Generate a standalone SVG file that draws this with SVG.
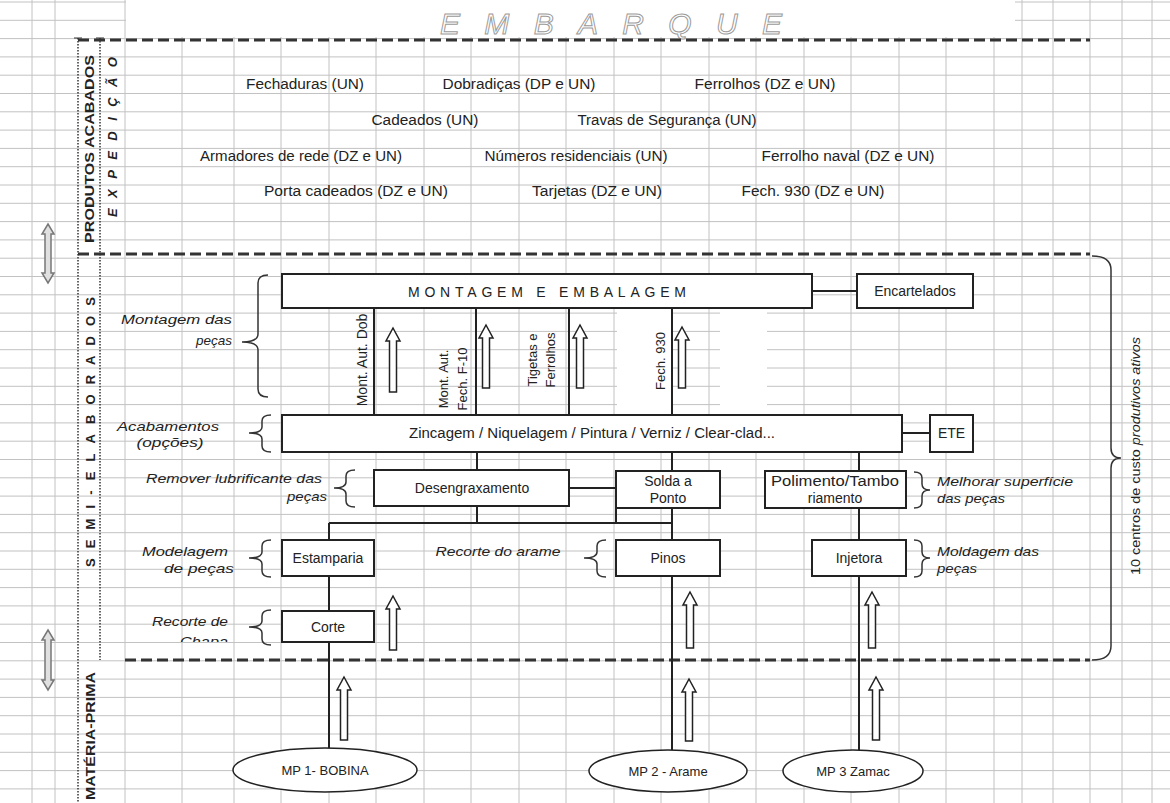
<svg xmlns="http://www.w3.org/2000/svg" width="1170" height="803" viewBox="0 0 1170 803">
<style>
.grid{stroke:#c2c2c2;stroke-width:1;fill:none}
.box{fill:#fff;stroke:#222;stroke-width:2}
.t{font-family:"Liberation Sans",Arial,sans-serif;font-size:14px;fill:#222}
.c{text-anchor:middle}
.e{text-anchor:end}
.it{font-style:italic;font-size:13px}
.b{font-weight:bold}
.conn{stroke:#222;stroke-width:2;fill:none}
.dash{stroke:#333;stroke-width:3;stroke-dasharray:11 5;fill:none}
.dot{stroke:#333;stroke-width:1.5;stroke-dasharray:1.5 1.5;fill:none}
.arrow{fill:#fff;stroke:#222;stroke-width:1.5}
.darrow{fill:#e0e0e0;stroke:#777;stroke-width:1.5}
.brace{fill:none;stroke:#333;stroke-width:1.5}
</style>
<defs>
<clipPath id="clipChapa"><rect x="100" y="600" width="200" height="42"/></clipPath>
</defs>
<rect width="1170" height="803" fill="#fff"/>
<g id="grid">
<path class="grid" d="M0,2H1170M0,20.3H1170M0,38.6H1170M0,56.9H1170M0,75.2H1170M0,93.5H1170M0,111.8H1170M0,130.1H1170M0,148.4H1170M0,166.7H1170M0,185H1170M0,203.3H1170M0,221.6H1170M0,239.9H1170M0,258.2H1170M0,276.5H1170M0,294.8H1170M0,313.1H1170M0,331.4H1170M0,349.7H1170M0,368H1170M0,386.3H1170M0,404.6H1170M0,422.9H1170M0,441.2H1170M0,459.5H1170M0,477.8H1170M0,496.1H1170M0,514.4H1170M0,532.7H1170M0,551H1170M0,569.3H1170M0,587.6H1170M0,605.9H1170M0,624.2H1170M0,642.5H1170M0,660.8H1170M0,679.1H1170M0,697.4H1170M0,715.7H1170M0,734H1170M0,752.3H1170M0,770.6H1170M0,788.9H1170"/>
<path class="grid" d="M32,0V803M55,0V803M125,0V803M182,0V803M234,0V803M281,0V803M329,0V803M376,0V803M424,0V803M471,0V803M519,0V803M566,0V803M614,0V803M661,0V803M709,0V803M756,0V803M804,0V803M851,0V803M899,0V803M946,0V803M994,0V803M1022,0V803M1053,0V803M1090,0V803M1122,0V803M1152,0V803"/>
<rect x="126" y="0" width="889" height="37" fill="#fff"/>
<rect x="617" y="309" width="54" height="105" fill="#fff"/>
<rect x="720" y="309" width="47" height="105" fill="#fff"/>
</g>
<g id="title">
<text class="t" x="440" y="34" textLength="342" lengthAdjust="spacing" style="font-size:30px;font-style:italic;fill:#fff;stroke:#9a9a9a;stroke-width:1">EMBARQUE</text>
</g>
<g id="sections">
<path class="dash" d="M78,40H1090"/>
<path class="dash" d="M78,254H1090"/>
<path class="dash" d="M125,660H1090"/>
<path class="dot" d="M78,38V803"/>
<path class="dot" d="M100,38V660"/>
<path stroke="#333" stroke-width="1.2" d="M74,38H82M96,38H104"/>
<text class="t b" transform="translate(94,149) rotate(-90)" text-anchor="middle" style="font-size:13px" textLength="188" lengthAdjust="spacingAndGlyphs">PRODUTOS ACABADOS</text>
<text class="t b" transform="translate(117,217) rotate(-90)" style="font-size:13px;font-style:italic" textLength="160" lengthAdjust="spacing">EXPEDIÇÃO</text>
<text class="t b" transform="translate(95,432) rotate(-90)" text-anchor="middle" style="font-size:13px" textLength="270" lengthAdjust="spacing">SEMI-ELABORADOS</text>
<text class="t b" transform="translate(95,800) rotate(-90)" style="font-size:13px" textLength="128" lengthAdjust="spacingAndGlyphs">MATÉRIA-PRIMA</text>
<polygon class="darrow" points="48,224 54,234 51,234 51,273 54,273 48,283 42,273 45,273 45,234 42,234"/>
<polygon class="darrow" points="48,630 54,640 51,640 51,680 54,680 48,690 42,680 45,680 45,640 42,640"/>
<path class="brace" d="M1092,256 Q1111,256 1111,270 L1111,448 Q1111,458 1121,458 Q1111,458 1111,468 L1111,646 Q1111,660 1092,660"/>
<text class="t c" transform="translate(1140,456) rotate(-90)" style="font-size:12px" textLength="238" lengthAdjust="spacingAndGlyphs">10 centros de custo <tspan style="font-style:italic">produtivos ativos</tspan></text>
</g>
<g id="products">
<text class="t c" x="305" y="89" textLength="118" lengthAdjust="spacingAndGlyphs">Fechaduras (UN)</text>
<text class="t c" x="519" y="89" textLength="153" lengthAdjust="spacingAndGlyphs">Dobradiças (DP e UN)</text>
<text class="t c" x="765" y="89" textLength="141" lengthAdjust="spacingAndGlyphs">Ferrolhos (DZ e UN)</text>
<text class="t c" x="425" y="125" textLength="107" lengthAdjust="spacingAndGlyphs">Cadeados (UN)</text>
<text class="t c" x="667" y="125" textLength="179" lengthAdjust="spacingAndGlyphs">Travas de Segurança (UN)</text>
<text class="t c" x="301" y="161" textLength="202" lengthAdjust="spacingAndGlyphs">Armadores de rede (DZ e UN)</text>
<text class="t c" x="576" y="161" textLength="183" lengthAdjust="spacingAndGlyphs">Números residenciais (UN)</text>
<text class="t c" x="848" y="161" textLength="173" lengthAdjust="spacingAndGlyphs">Ferrolho naval (DZ e UN)</text>
<text class="t c" x="356" y="196" textLength="184" lengthAdjust="spacingAndGlyphs">Porta cadeados (DZ e UN)</text>
<text class="t c" x="597" y="196" textLength="130" lengthAdjust="spacingAndGlyphs">Tarjetas (DZ e UN)</text>
<text class="t c" x="813" y="196" textLength="143" lengthAdjust="spacingAndGlyphs">Fech. 930 (DZ e UN)</text>
</g>
<g id="connectors">
<path class="conn" d="M812,291H857M902,433H930M374,308V415M476,308V415M569,308V415M672,308V415M477,452V470M672,452V471M859,452V471M569,488H616M477,506V523M616,508V523M329,523H672M672,508V540M859,508V540M329,523V540M329,576V611M329,642V748M672,576V750M859,576V750"/>
</g>
<g id="arrows">
<polygon class="arrow" points="393,328 400,341 396.5,341 396.5,392 389.5,392 389.5,341 386,341"/>
<polygon class="arrow" points="486,325 493,338 489.5,338 489.5,388 482.5,388 482.5,338 479,338"/>
<polygon class="arrow" points="580,325 587,338 583.5,338 583.5,388 576.5,388 576.5,338 573,338"/>
<polygon class="arrow" points="682,327 689,340 685.5,340 685.5,388 678.5,388 678.5,340 675,340"/>
<polygon class="arrow" points="393,596 400,609 396.5,609 396.5,650 389.5,650 389.5,609 386,609"/>
<polygon class="arrow" points="690,592 697,605 693.5,605 693.5,648 686.5,648 686.5,605 683,605"/>
<polygon class="arrow" points="872,592 879,605 875.5,605 875.5,648 868.5,648 868.5,605 865,605"/>
<polygon class="arrow" points="344,677 351,690 347.5,690 347.5,740 340.5,740 340.5,690 337,690"/>
<polygon class="arrow" points="689,679 696,692 692.5,692 692.5,741 685.5,741 685.5,692 682,692"/>
<polygon class="arrow" points="876,677 883,690 879.5,690 879.5,740 872.5,740 872.5,690 869,690"/>
</g>
<g id="montagem">
<rect class="box" x="282" y="274" width="530" height="34"/>
<text class="t c" x="547" y="297" textLength="278" lengthAdjust="spacing">MONTAGEM E EMBALAGEM</text>
<text class="t c" transform="translate(367,360) rotate(-90)" style="font-size:14px">Mont. Aut. Dob</text>
<text class="t c" transform="translate(448,379) rotate(-90)" style="font-size:13px">Mont. Aut.</text>
<text class="t c" transform="translate(467,379) rotate(-90)" style="font-size:13px">Fech. F-10</text>
<text class="t c" transform="translate(537,360) rotate(-90)" style="font-size:13px">Tigetas e</text>
<text class="t c" transform="translate(555,360) rotate(-90)" style="font-size:13px">Ferrolhos</text>
<text class="t c" transform="translate(665,361) rotate(-90)" style="font-size:13px">Fech. 930</text>
<path class="brace" d="M268,275 Q258,275 258,283 L258,334 Q258,342 242,342 Q258,342 258,350 L258,389 Q258,397 268,397"/>
<text class="t it e" x="232" y="324" textLength="111" lengthAdjust="spacingAndGlyphs">Montagem das</text>
<text class="t it e" x="232" y="345" textLength="36" lengthAdjust="spacingAndGlyphs">peças</text>
</g>
<g id="encartelados">
<rect class="box" x="857" y="274" width="116" height="34"/>
<text class="t c" x="915" y="296">Encartelados</text>
</g>
<g id="zincagem">
<rect class="box" x="282" y="415" width="620" height="37"/>
<text class="t c" x="592" y="438" textLength="366" lengthAdjust="spacingAndGlyphs">Zincagem / Niquelagem / Pintura / Verniz / Clear-clad...</text>
<path class="brace" d="M271,415 Q262,415 262,421 L262,427 Q262,433 249,433 Q262,433 262,439 L262,446 Q262,452 271,452"/>
<text class="t it c" x="168" y="431" textLength="102" lengthAdjust="spacingAndGlyphs">Acabamentos</text>
<text class="t it c" x="170" y="447" textLength="67" lengthAdjust="spacingAndGlyphs">(opções)</text>
</g>
<g id="ete">
<rect class="box" x="930" y="415" width="43" height="37"/>
<text class="t c" x="951.5" y="438">ETE</text>
</g>
<g id="desengraxamento">
<rect class="box" x="374" y="470" width="195" height="36"/>
<text class="t c" x="472" y="493">Desengraxamento</text>
<path class="brace" d="M355,470 Q346,470 346,476 L346,482 Q346,488 334,488 Q346,488 346,494 L346,501 Q346,507 355,507"/>
<text class="t it e" x="322" y="483" textLength="176" lengthAdjust="spacingAndGlyphs">Remover lubrificante das</text>
<text class="t it e" x="327" y="501" textLength="40" lengthAdjust="spacingAndGlyphs">peças</text>
</g>
<g id="solda">
<rect class="box" x="616" y="471" width="104" height="37"/>
<text class="t c" x="668" y="486">Solda a</text>
<text class="t c" x="668" y="503">Ponto</text>
</g>
<g id="polimento">
<rect class="box" x="765" y="471" width="141" height="37"/>
<text class="t c" x="835" y="486" textLength="128" lengthAdjust="spacingAndGlyphs">Polimento/Tambo</text>
<text class="t c" x="835" y="503">riamento</text>
<path class="brace" d="M914,472 Q922,472 922,478 L922,484 Q922,490 930,490 Q922,490 922,496 L922,502 Q922,508 914,508"/>
<text class="t it" x="937" y="486" textLength="136" lengthAdjust="spacingAndGlyphs">Melhorar superfície</text>
<text class="t it" x="937" y="503" textLength="68" lengthAdjust="spacingAndGlyphs">das peças</text>
</g>
<g id="estamparia">
<rect class="box" x="282" y="540" width="92" height="36"/>
<text class="t c" x="328" y="563">Estamparia</text>
<path class="brace" d="M271,540 Q262,540 262,546 L262,552 Q262,558 249,558 Q262,558 262,564 L262,571 Q262,577 271,577"/>
<text class="t it e" x="228" y="556" textLength="86" lengthAdjust="spacingAndGlyphs">Modelagem</text>
<text class="t it e" x="234" y="573" textLength="70" lengthAdjust="spacingAndGlyphs">de peças</text>
</g>
<g id="pinos">
<rect class="box" x="616" y="540" width="104" height="36"/>
<text class="t c" x="668" y="563">Pinos</text>
<path class="brace" d="M606,540 Q597,540 597,546 L597,552 Q597,558 584,558 Q597,558 597,564 L597,571 Q597,577 606,577"/>
<text class="t it c" x="498" y="556" textLength="125" lengthAdjust="spacingAndGlyphs">Recorte do arame</text>
</g>
<g id="injetora">
<rect class="box" x="812" y="540" width="94" height="36"/>
<text class="t c" x="859" y="563">Injetora</text>
<path class="brace" d="M914,540 Q922,540 922,546 L922,552 Q922,558 930,558 Q922,558 922,564 L922,571 Q922,577 914,577"/>
<text class="t it" x="937" y="556" textLength="102" lengthAdjust="spacingAndGlyphs">Moldagem das</text>
<text class="t it" x="937" y="573" textLength="40" lengthAdjust="spacingAndGlyphs">peças</text>
</g>
<g id="corte">
<rect class="box" x="282" y="611" width="92" height="31"/>
<text class="t c" x="328" y="632">Corte</text>
<path class="brace" d="M271,610 Q262,610 262,616 L262,621 Q262,627 249,627 Q262,627 262,633 L262,639 Q262,645 271,645"/>
<text class="t it e" x="228" y="626" textLength="76" lengthAdjust="spacingAndGlyphs">Recorte de</text>
<text class="t it e" x="228" y="646" clip-path="url(#clipChapa)" textLength="48" lengthAdjust="spacingAndGlyphs">Chapa</text>
</g>
<g id="mp1">
<ellipse class="box" cx="325" cy="770" rx="92" ry="22" style="stroke-width:1.5"/>
<text class="t c" x="325" y="775" style="font-size:13px">MP 1- BOBINA</text>
</g>
<g id="mp2">
<ellipse class="box" cx="668" cy="771" rx="79" ry="21" style="stroke-width:1.5"/>
<text class="t c" x="668" y="776" style="font-size:13px">MP 2 - Arame</text>
</g>
<g id="mp3">
<ellipse class="box" cx="853" cy="771" rx="70" ry="21" style="stroke-width:1.5"/>
<text class="t c" x="853" y="776" style="font-size:13px">MP 3  Zamac</text>
</g>
</svg>
